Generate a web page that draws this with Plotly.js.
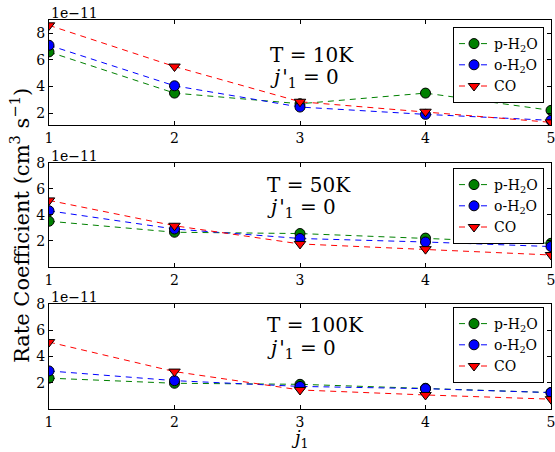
<!DOCTYPE html>
<html>
<head>
<meta charset="utf-8">
<script src="https://cdn.plot.ly/plotly-3.0.1.min.js"></script>
<style>html,body{margin:0;padding:0;background:#fff;}</style>
</head>
<body>
<div id="chart" style="width:555px;height:452px;"></div>
<script>
// Data (rate coefficients in units of 1e-11 cm^3 s^-1)
const j1 = [1, 2, 3, 4, 5];
const seriesNames = ["p-H<sub>2</sub>O", "o-H<sub>2</sub>O", "CO"];
const panelTemps = ["10K", "50K", "100K"];

const pH2O_10K = [6.6, 3.5, 2.7, 3.5, 2.2];
const oH2O_10K = [7.1, 4.05, 2.45, 1.9, 1.45];
const CO_10K   = [8.6, 5.5, 2.85, 2.1, 1.3];

const pH2O_50K = [3.5, 2.65, 2.55, 2.2, 1.8];
const oH2O_50K = [4.3, 2.9, 2.17, 1.9, 1.55];
const CO_50K   = [5.1, 3.15, 1.75, 1.35, 0.9];

const pH2O_100K = [2.35, 1.96, 1.88, 1.58, 1.25];
const oH2O_100K = [2.9, 2.16, 1.72, 1.55, 1.25];
const CO_100K   = [5.1, 2.85, 1.45, 1.07, 0.75];

const panels = [
  [pH2O_10K, oH2O_10K, CO_10K],
  [pH2O_50K, oH2O_50K, CO_50K],
  [pH2O_100K, oH2O_100K, CO_100K]
];

const colors = ["#008000", "#0000ff", "#ff0000"];
const symbols = ["circle", "circle", "triangle-down"];
const FONT = "DejaVu Serif";

const W = 555, H = 452;
const xDom = [49 / W, 551 / W];
// pixel top/bottom of each axes box
const boxes = [[20, 125], [162.7, 266.7], [304, 409]];
const yRanges = [[1.1, 9.0], [0, 8], [0, 8]];
const titleY = [[55, 78], [185, 208], [325, 349]];
const titleX = [268, 265, 265];
const legendTop = [27, 168, 307];

const traces = [];
const layout = {
  width: W, height: H,
  margin: {l: 0, r: 0, t: 0, b: 0},
  paper_bgcolor: "#fff", plot_bgcolor: "#fff",
  font: {family: FONT, size: 14, color: "#000"},
  annotations: [],
  showlegend: true
};

panels.forEach((data, p) => {
  const sfx = p === 0 ? "" : String(p + 1);
  const legName = "legend" + sfx;
  data.forEach((vals, s) => {
    traces.push({
      x: j1, y: vals, type: "scatter", mode: "lines+markers",
      name: seriesNames[s],
      xaxis: "x" + sfx, yaxis: "y" + sfx,
      legend: legName,
      line: {color: colors[s], width: 1, dash: "6px,5px"},
      marker: {symbol: symbols[s], size: 10, color: colors[s], line: {color: "#000", width: 1}},
      cliponaxis: true
    });
  });
  const [top, bot] = boxes[p];
  const yDom = [1 - bot / H, 1 - top / H];
  const axCommon = {
    showline: true, linecolor: "#000", linewidth: 1, mirror: "allticks",
    ticks: "inside", ticklen: 4, tickcolor: "#000", tickwidth: 1,
    showgrid: false, zeroline: false, automargin: false,
    ticklabeloverflow: "allow",
    tickfont: {family: FONT, size: 14, color: "#000"}
  };
  layout["xaxis" + sfx] = Object.assign({}, axCommon, {
    domain: xDom, range: [1, 5], tickvals: j1, ticktext: j1.map(String),
    anchor: "y" + sfx
  });
  layout["yaxis" + sfx] = Object.assign({}, axCommon, {
    domain: yDom, range: yRanges[p], tickvals: [2, 4, 6, 8],
    anchor: "x" + sfx
  });
  layout[legName] = {
    x: 544 / W, xanchor: "right", y: 1 - legendTop[p] / H, yanchor: "top",
    bgcolor: "#fff", bordercolor: "#000", borderwidth: 1,
    font: {family: FONT, size: 14, color: "#000"},
    itemwidth: 30, tracegroupgap: 0
  };
  // offset text
  layout.annotations.push({
    text: "1e\u221211", xref: "paper", yref: "paper",
    x: 49 / W, y: 1 - (top - 7) / H, xanchor: "left", yanchor: "middle",
    showarrow: false, font: {family: FONT, size: 14, color: "#000"}
  });
  layout.annotations.push({
    text: "T = " + panelTemps[p], xref: "paper", yref: "paper",
    x: titleX[p] / W, y: 1 - titleY[p][0] / H, xanchor: "left", yanchor: "middle",
    showarrow: false, font: {family: FONT, size: 20, color: "#000"}
  });
  layout.annotations.push({
    text: "<i>j</i>\u200a'<sub>1</sub> = 0", xref: "paper", yref: "paper",
    x: titleX[p] / W, y: 1 - titleY[p][1] / H, xanchor: "left", yanchor: "middle",
    showarrow: false, font: {family: FONT, size: 20, color: "#000"}
  });
});

layout.annotations.push({
  text: "Rate Coefficient (cm<sup>3</sup> s<sup>\u22121</sup>)",
  xref: "paper", yref: "paper", x: 20 / W, y: 1 - 226 / H,
  xanchor: "center", yanchor: "middle", textangle: -90, showarrow: false,
  font: {family: FONT, size: 21, color: "#000"}
});
layout.annotations.push({
  text: "<i>j</i><sub>1</sub>", xref: "paper", yref: "paper",
  x: 300 / W, y: 1 - 439 / H, xanchor: "center", yanchor: "middle",
  showarrow: false, font: {family: FONT, size: 18, color: "#000"}
});

Plotly.newPlot("chart", traces, layout, {displayModeBar: false, staticPlot: true});
</script>
</body>
</html>
